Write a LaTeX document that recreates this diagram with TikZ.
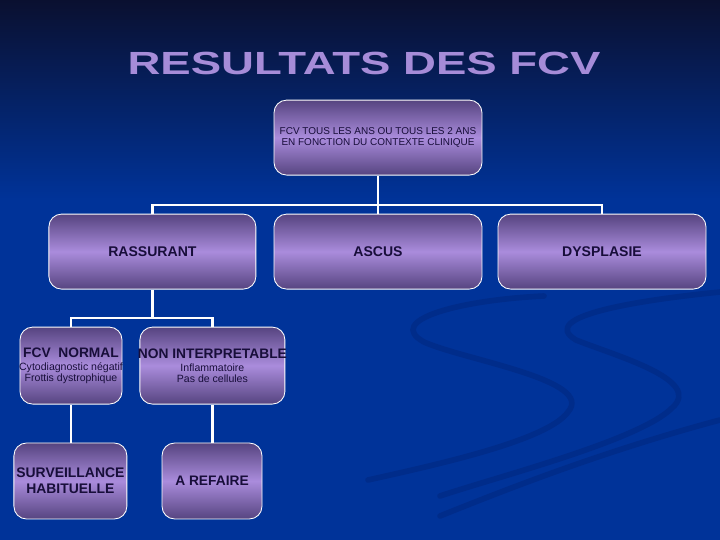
\documentclass[tikz,border=0pt]{standalone}
\usepackage{fontspec}
\setmainfont{Liberation Sans}
\usetikzlibrary{calc}
\definecolor{bgdark}{RGB}{10,16,48}
\definecolor{bgblue}{RGB}{0,51,153}
\definecolor{boxdark}{RGB}{86,68,128}
\definecolor{boxlight}{RGB}{170,140,220}
\definecolor{txtnavy}{RGB}{24,14,58}
\definecolor{titlelav}{RGB}{166,140,216}
\definecolor{swirlblue}{RGB}{0,44,138}

\begin{document}
\begin{tikzpicture}[
    box/.style={draw=white, line width=0.6pt, rounded corners=9pt,
      top color=boxdark, bottom color=boxdark, middle color=boxlight,
      align=center, text=txtnavy, inner sep=1pt},
    link/.style={draw=white, line width=2pt},
    swirl/.style={draw=swirlblue, line width=4pt, line cap=round}]
    % background
    \fill[bgblue] (0,0) rectangle (18,13.5);
    \shade[top color=bgdark, bottom color=bgblue] (0,8.5) rectangle (18,13.5);
    \useasboundingbox (0,0) rectangle (18,13.5);
    \draw[swirl] (13.6,6.1) .. controls (11.5,6.0) and (9.6,5.5) .. (10.6,4.95)
      .. controls (11.6,4.5) and (14.9,4.0) .. (14.2,3.2)
      .. controls (13.7,2.5) and (11,1.9) .. (9.2,1.5);
    \draw[swirl] (18,6.2) .. controls (16,6.0) and (13.4,5.6) .. (14.4,5.0)
      .. controls (15.4,4.6) and (17.6,4.0) .. (16.8,3.3)
      .. controls (16,2.5) and (12.5,1.6) .. (11,1.1);
    \draw[swirl] (18,3.0) .. controls (15,2.2) and (12.5,1.2) .. (11,0.6);

    \node[text=titlelav, font=\fontsize{22.8}{26}\selectfont\bfseries] (title) at (9.1,11.91)
      {\scalebox{1.42}[1]{RESULTATS DES FCV}};

    \node[box, minimum width=5.2cm, minimum height=1.875cm, font=\fontsize{7.1}{7.8}\selectfont] (fcv) at (9.45,10.06)
      {FCV TOUS LES ANS OU TOUS LES 2 ANS\\EN FONCTION DU CONTEXTE CLINIQUE};

    \node[box, minimum width=5.175cm, minimum height=1.875cm, font=\fontsize{10}{12}\selectfont\bfseries] (rass) at (3.81,7.21) {RASSURANT};
    \node[box, minimum width=5.2cm, minimum height=1.875cm, font=\fontsize{10}{12}\selectfont\bfseries] (ascus) at (9.45,7.21) {ASCUS};
    \node[box, minimum width=5.2cm, minimum height=1.875cm, font=\fontsize{10}{12}\selectfont\bfseries] (dysp) at (15.05,7.21) {DYSPLASIE};

    \node[box, inner xsep=-0.5cm, minimum width=2.55cm, minimum height=1.925cm, font=\fontsize{7.5}{8}\selectfont] (normal) at (1.775,4.36)
      {{\fontsize{9.8}{11}\selectfont\bfseries FCV\ \ NORMAL}\\[1.5pt]Cytodiagnostic négatif\\Frottis dystrophique};
    \node[box, inner xsep=-0.5cm, minimum width=3.625cm, minimum height=1.925cm, font=\fontsize{7.5}{8}\selectfont] (nonint) at (5.31,4.36)
      {{\fontsize{9.8}{11}\selectfont\bfseries NON INTERPRETABLE}\\[1.5pt]Inflammatoire\\Pas de cellules};

    \node[box, inner xsep=-0.5cm, minimum width=2.825cm, minimum height=1.9cm, font=\fontsize{9.9}{11.6}\selectfont\bfseries] (surv) at (1.76,1.475)
      {SURVEILLANCE\\HABITUELLE};
    \node[box, minimum width=2.5cm, minimum height=1.9cm, font=\fontsize{9.8}{11.6}\selectfont\bfseries] (refaire) at (5.3,1.475) {A REFAIRE};

    % connectors
    \coordinate (bus1) at (9.45,8.375);
    \coordinate (bus2) at (3.81,5.55);
    \draw[link] (fcv.south) -- (bus1);
    \draw[link] (bus1) -| (rass.north);
    \draw[link] (bus1) -- (ascus.north);
    \draw[link] (bus1) -| (dysp.north);
    \draw[link] (rass.south) -- (bus2);
    \draw[link] (bus2) -| (normal.north);
    \draw[link] (bus2) -| (nonint.north);
    \draw[link] (normal.south) -- (surv.north -| normal.south);
    \draw[link] (nonint.south) -- (refaire.north -| nonint.south);
\end{tikzpicture}
\end{document}
